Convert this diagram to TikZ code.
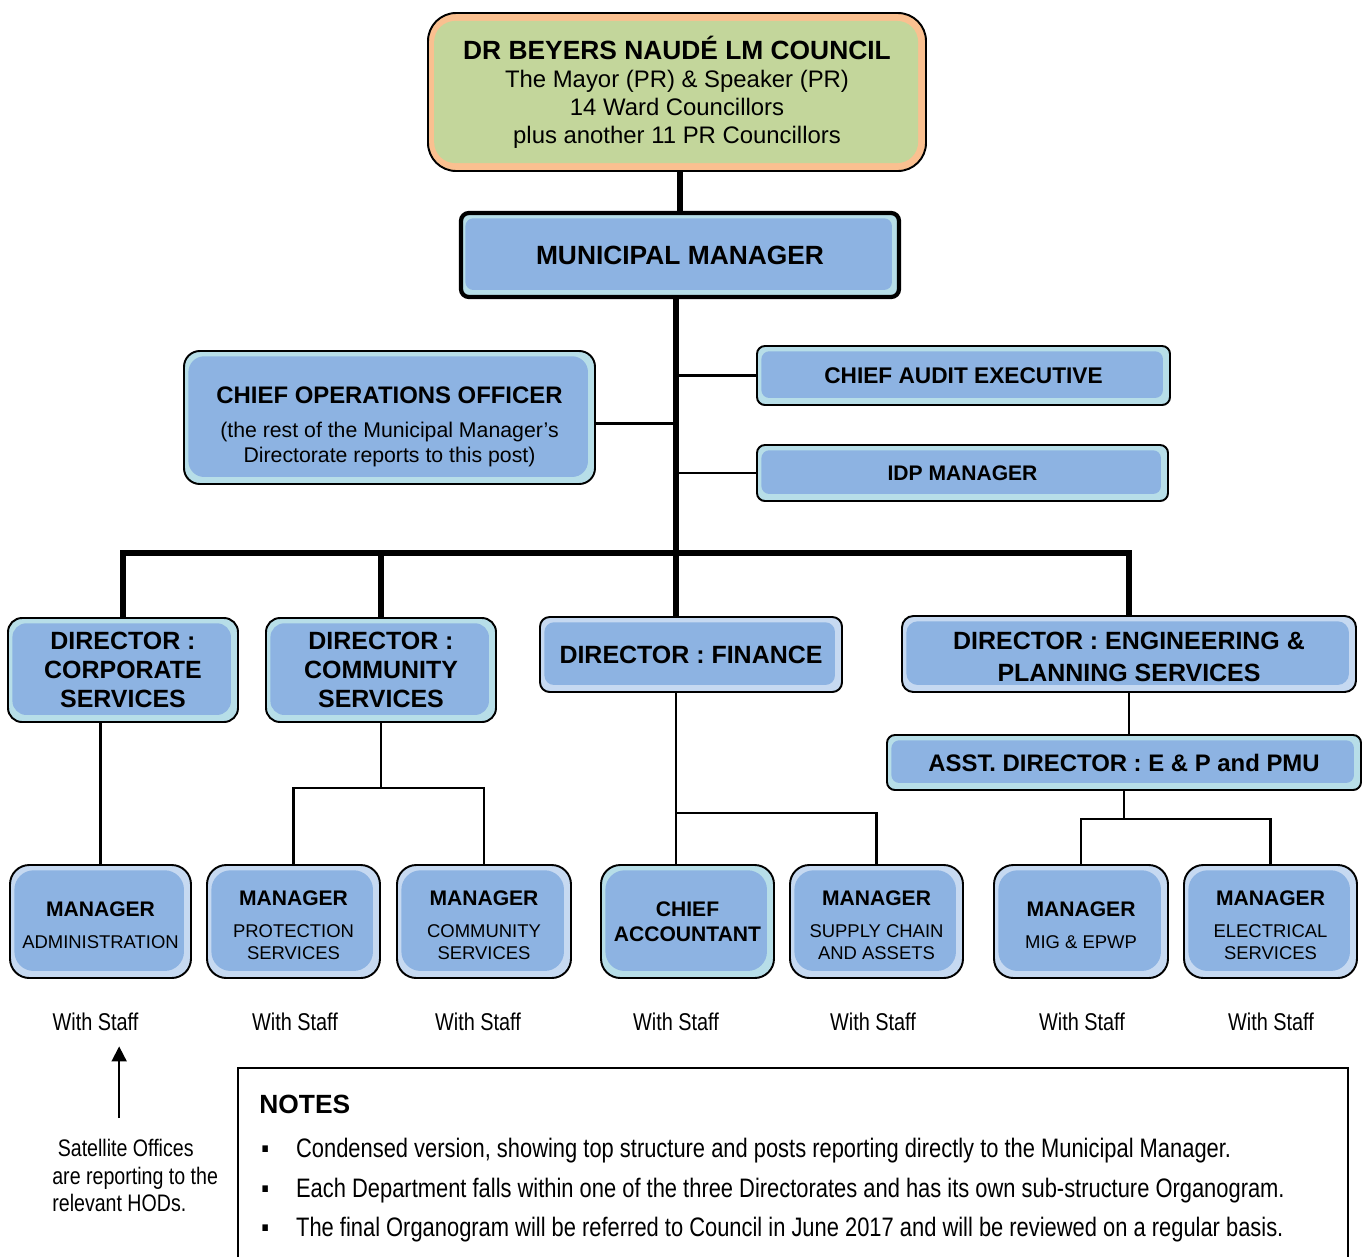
\documentclass[tikz,border=0pt]{standalone}
\usepackage{fontspec}
\setmainfont{Liberation Sans}
\newfontfamily\narrowfont[FakeStretch=0.82]{Liberation Sans}
\usetikzlibrary{arrows.meta,positioning}

\definecolor{postblue}{HTML}{8DB3E2}
\definecolor{rimcyan}{HTML}{B7DEE8}
\definecolor{rimblue}{HTML}{C6D9F1}
\definecolor{councilgreen}{HTML}{C3D69B}
\definecolor{councilrim}{HTML}{FAC090}

\newcommand\subfont{\fontsize{10.5}{12.5}\selectfont}
\newcommand\mgrhead{\rule{0pt}{13pt}\textbf{MANAGER}}

\tikzset{
  wh/.style 2 args={minimum width=#1*0.2mm, minimum height=#2*0.2mm},
  post/.style={draw, line width=1.1pt, rounded corners=#1, fill=rimcyan,
    inner sep=0pt, align=center,
    path picture={\fill[postblue, rounded corners=#1]
      ([shift={(2.5pt,-3pt)}]path picture bounding box.north west) rectangle
      ([shift={(-4pt,4pt)}]path picture bounding box.south east);}},
  post/.default=5pt,
  paler/.style={fill=rimblue},
  council/.style={draw, line width=1.1pt, rounded corners=16pt, fill=councilrim,
    inner sep=0pt, align=center,
    path picture={\fill[councilgreen, rounded corners=12pt]
      ([shift={(3.5pt,-4.5pt)}]path picture bounding box.north west) rectangle
      ([shift={(-4.5pt,4.5pt)}]path picture bounding box.south east);}},
  director/.style={post=8pt, font=\fontsize{14.2}{16.5}\selectfont\bfseries},
  manager/.style={post=11pt, paler, wh={173}{113}, font=\fontsize{12}{12.5}\selectfont},
  bigline/.style={line width=3pt},
  link/.style={line width=1.5pt},
  staff/.style={font=\narrowfont\fontsize{13.8}{16}\selectfont, inner sep=0pt},
  note/.style={anchor=base west, inner sep=0pt, font=\narrowfont\fontsize{15.2}{18}\selectfont},
  pointer/.style={line width=1.1pt, -{Triangle[length=8.5pt,width=8.5pt]}},
}

\begin{document}
\begin{tikzpicture}[x=0.2mm, y=-0.2mm]
  \useasboundingbox (0,0) rectangle (1370,1257);

  % council and municipal manager
  \node[council, wh={498}{158}, font=\fontsize{13.6}{15.9}\selectfont] (council) at (677,92)
    {\fontsize{15}{15.9}\selectfont\bfseries DR BEYERS NAUDÉ LM COUNCIL\\
     The Mayor (PR) \& Speaker (PR)\\ 14 Ward Councillors\\ plus another 11 PR Councillors};
  \node[post=4.5pt, line width=2.4pt, wh={438}{84}, font=\fontsize{15}{18}\selectfont\bfseries] (mm) at (680,255)
    {MUNICIPAL MANAGER};

  % posts in the office of the MM
  \node[post=9pt, wh={411}{133}, font=\fontsize{12.1}{14.2}\selectfont] (coo) at (389.5,417.5)
    {\rule{0pt}{20pt}\fontsize{13.6}{14.2}\selectfont\bfseries CHIEF OPERATIONS OFFICER\\[5.5pt]
     (the rest of the Municipal Manager’s\\ Directorate reports to this post)};
  \node[post=4.5pt, wh={413}{59}, font=\fontsize{12.9}{15}\selectfont\bfseries] (cae) at (963.5,375.5)
    {CHIEF AUDIT EXECUTIVE};
  \node[post=4.5pt, wh={411}{56}, font=\fontsize{12}{15}\selectfont\bfseries] (idp) at (962.5,473)
    {IDP MANAGER};

  % directorates
  \node[director, wh={230}{104}] (corp) at (123,670) {DIRECTOR :\\ CORPORATE\\ SERVICES};
  \node[director, wh={230}{104}] (comm) at (381,670) {DIRECTOR :\\ COMMUNITY\\ SERVICES};
  \node[director, post=5.5pt, paler, wh={302}{75}] (fin) at (691,654.5) {DIRECTOR : FINANCE};
  \node[director, post=6.5pt, paler, wh={454}{76}, font=\fontsize{14.2}{18}\selectfont\bfseries] (eng) at (1129,654)
    {\rule{0pt}{13pt}DIRECTOR : ENGINEERING \&\\ PLANNING SERVICES};
  \node[post=4.5pt, wh={474}{55}, font=\fontsize{13.6}{15}\selectfont\bfseries] (asst) at (1124,762.5)
    {ASST. DIRECTOR : E \& P and PMU};

  % managers
  \node[manager, wh={181}{113}] (madmin) at (100.5,921.5)
    {\mgrhead\\[5.6pt]\subfont ADMINISTRATION};
  \node[manager] (mprot) at (293.5,921.5)
    {\mgrhead\\[5.6pt]\subfont PROTECTION\\\subfont SERVICES};
  \node[manager, wh={174}{113}] (mcomm) at (484,921.5)
    {\mgrhead\\[5.6pt]\subfont COMMUNITY\\\subfont SERVICES};
  \node[manager, fill=rimcyan, font=\fontsize{12}{14.2}\selectfont\bfseries] (chacc) at (687.5,921.5)
    {CHIEF\\ ACCOUNTANT};
  \node[manager] (msupply) at (876.5,921.5)
    {\mgrhead\\[5.6pt]\subfont SUPPLY CHAIN\\\subfont AND ASSETS};
  \node[manager, wh={174}{113}] (mmig) at (1081,921.5)
    {\mgrhead\\[5.6pt]\subfont MIG \& EPWP};
  \node[manager] (melec) at (1270.5,921.5)
    {\mgrhead\\[5.6pt]\subfont ELECTRICAL\\\subfont SERVICES};

  \foreach \m/\dx in {madmin/-5,mprot/1.5,mcomm/-6,chacc/-11.5,msupply/-3.5,mmig/1,melec/0.5}
    \node[staff, below=0.68cm of \m, xshift=\dx*0.2mm] (s\m) {With Staff};

  % reporting lines
  \coordinate (trunk) at (676,0);
  \coordinate (bus) at (676,553);
  \draw[bigline] (mm.north) -- (mm.north |- council.south);
  \draw[bigline] (mm.south -| trunk) -- (fin.north -| trunk);
  \draw[link] (cae.west) -- (cae.west -| trunk);
  \draw[link] (idp.west) -- (idp.west -| trunk);
  \draw[link] ([yshift=-3.4pt]coo.east) -- ([yshift=-3.4pt]coo.east -| trunk);
  \draw[bigline] (corp.north) |- (bus) -| (eng.north);
  \draw[bigline] (comm.north) -- (comm.north |- bus);

  \draw[link] (madmin.north) -- (madmin.north |- corp.south);
  \path (comm.south) ++(0,65) coordinate (commfork);
  \draw[link] (comm.south) -- (commfork);
  \draw[link] (mprot.north) |- (commfork) -| (mcomm.north);
  \path (fin.south -| trunk) ++(0,120) coordinate (finfork);
  \draw[link] (fin.south -| trunk) -- (chacc.north -| trunk);
  \draw[link] (finfork) -| (msupply.north);
  \draw[link] (eng.south) -- (eng.south |- asst.north);
  \path (asst.south) ++(0,28) coordinate (engfork);
  \draw[link] (asst.south) -- (engfork);
  \draw[link] (mmig.north) |- (engfork) -| (melec.north);

  % satellite offices
  \node[staff, anchor=north west, align=left, font=\narrowfont\fontsize{13.6}{15.6}\selectfont] (sat) at (52,1139)
    {\ Satellite Offices\\ are reporting to the\\ relevant HODs.};
  \path (sat.north) ++(-16,-21) coordinate (sattail);
  \draw[pointer, shorten >=8.5pt] (sattail) -- (sattail |- smadmin.south);

  % notes
  \draw[line width=0.9pt] (238,1257) |- (1348,1068) -- (1348,1257);
  \node[anchor=base west, inner sep=0pt, font=\fontsize{15}{18}\selectfont\bfseries] (notes) at (259,1113) {NOTES};
  \node[note] (note1) at (261,1157) {\makebox[19.8pt][l]{▪}Condensed version, showing top structure and posts reporting directly to the Municipal Manager.};
  \node[note] (note2) at (261,1197) {\makebox[19.8pt][l]{▪}Each Department falls within one of the three Directorates and has its own sub-structure Organogram.};
  \node[note] (note3) at (261,1236) {\makebox[19.8pt][l]{▪}The final Organogram will be referred to Council in June 2017 and will be reviewed on a regular basis.};
\end{tikzpicture}
\end{document}
